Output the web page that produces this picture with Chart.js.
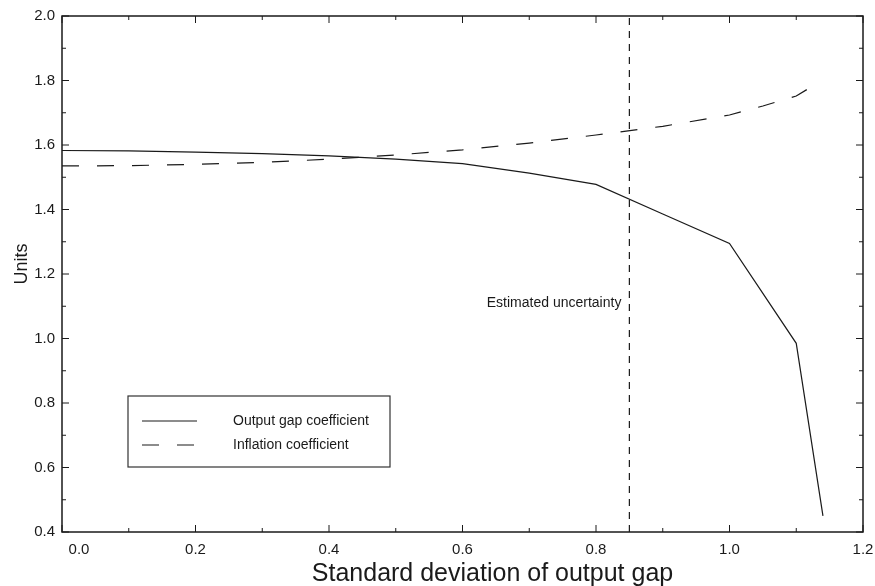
<!DOCTYPE html>
<html>
<head>
<meta charset="utf-8">
<script src="https://cdn.jsdelivr.net/npm/chart.js@4.4.1/dist/chart.umd.min.js"></script>
<style>
  html, body { margin: 0; padding: 0; background: #fff; }
  canvas { display: block; }
</style>
</head>
<body>
<canvas id="coefChart" width="875" height="586"></canvas>
<script>
// standard deviation of the output gap (x) and policy coefficients (y)
const outputGapSd = [0, 0.1, 0.2, 0.3, 0.4, 0.5, 0.6, 0.7, 0.8, 0.9, 1.0, 1.1, 1.14];
const outputGapCoef = [1.583, 1.582, 1.578, 1.573, 1.566, 1.556, 1.542, 1.513, 1.478, 1.386, 1.295, 0.985, 0.45];

const inflationSd = [0, 0.1, 0.2, 0.3, 0.4, 0.5, 0.6, 0.7, 0.8, 0.9, 1.0, 1.05, 1.1, 1.12];
const inflationCoef = [1.535, 1.536, 1.540, 1.546, 1.556, 1.569, 1.585, 1.606, 1.631, 1.658, 1.693, 1.721, 1.752, 1.777];

const uncertaintyX = 0.85;
const uncertaintyLabel = 'Estimated uncertainty';
const uncertaintyLabelY = 1.11;

const xTicks = [0, 0.2, 0.4, 0.6, 0.8, 1.0, 1.2];
const yTicks = [0.4, 0.6, 0.8, 1.0, 1.2, 1.4, 1.6, 1.8, 2.0];
const xTitle = 'Standard deviation of output gap';
const yTitle = 'Units';

const ink = '#1a1a1a';
const font = '"Liberation Sans", Arial, Helvetica, sans-serif';

const toPoints = (xs, ys) => xs.map((x, i) => ({ x: x, y: ys[i] }));

// frame, inward ticks, tick labels, axis titles, legend box and the annotation
const framePlugin = {
  id: 'frame',
  afterDraw(chart) {
    const { ctx, chartArea: a, scales } = chart;
    const xs = scales.x, ys = scales.y;
    ctx.save();
    ctx.strokeStyle = ink;
    ctx.lineWidth = 1.5;
    ctx.strokeRect(a.left, a.top, a.right - a.left, a.bottom - a.top);

    ctx.lineWidth = 1;
    ctx.beginPath();
    for (let i = 0; i <= 12; i++) {
      const px = xs.getPixelForValue(i / 10);
      const len = i % 2 === 0 ? 7 : 4;
      ctx.moveTo(px, a.bottom); ctx.lineTo(px, a.bottom - len);
      ctx.moveTo(px, a.top); ctx.lineTo(px, a.top + len);
    }
    for (let i = 0; i <= 16; i++) {
      const py = ys.getPixelForValue(0.4 + i / 10);
      const len = i % 2 === 0 ? 7 : 4;
      ctx.moveTo(a.left, py); ctx.lineTo(a.left + len, py);
      ctx.moveTo(a.right, py); ctx.lineTo(a.right - len, py);
    }
    ctx.stroke();

    ctx.fillStyle = ink;
    ctx.font = '15px ' + font;
    ctx.textAlign = 'right';
    ctx.textBaseline = 'middle';
    yTicks.forEach(v => ctx.fillText(v.toFixed(1), a.left - 7, ys.getPixelForValue(v)));
    ctx.textAlign = 'center';
    xTicks.forEach(v => {
      const shift = v === 0 ? 17 : 0;
      ctx.fillText(v.toFixed(1), xs.getPixelForValue(v) + shift, a.bottom + 18);
    });

    // axis titles
    ctx.font = '25px ' + font;
    ctx.textBaseline = 'alphabetic';
    ctx.fillText(xTitle, (a.left + a.right) / 2 + 30, 581);
    ctx.save();
    ctx.translate(27, (a.top + a.bottom) / 2 - 10);
    ctx.rotate(-Math.PI / 2);
    ctx.font = '18px ' + font;
    ctx.fillText(yTitle, 0, 0);
    ctx.restore();

    // annotation next to the vertical line
    ctx.font = '14px ' + font;
    ctx.textAlign = 'right';
    ctx.textBaseline = 'middle';
    ctx.fillText(uncertaintyLabel, xs.getPixelForValue(uncertaintyX) - 8, ys.getPixelForValue(uncertaintyLabelY));

    // legend
    const bx = 128, by = 396, bw = 262, bh = 71;
    ctx.lineWidth = 1.2;
    ctx.strokeStyle = '#333';
    ctx.strokeRect(bx, by, bw, bh);
    [chart.data.datasets[0], chart.data.datasets[1]].forEach((ds, i) => {
      const ry = by + 25 + i * 24;
      ctx.beginPath();
      ctx.strokeStyle = ink;
      ctx.lineWidth = 1.2;
      ctx.setLineDash(ds.borderDash || []);
      ctx.moveTo(bx + 14, ry);
      ctx.lineTo(bx + 69, ry);
      ctx.stroke();
      ctx.setLineDash([]);
      ctx.textAlign = 'left';
      ctx.fillText(ds.label, bx + 105, ry);
    });
    ctx.restore();
  }
};

new Chart(document.getElementById('coefChart').getContext('2d'), {
  type: 'line',
  data: {
    datasets: [{
      label: 'Output gap coefficient',
      data: toPoints(outputGapSd, outputGapCoef),
      borderColor: ink,
      borderWidth: 1.2,
      pointRadius: 0,
      tension: 0,
    }, {
      label: 'Inflation coefficient',
      data: toPoints(inflationSd, inflationCoef),
      borderColor: ink,
      borderWidth: 1.2,
      borderDash: [17, 18],
      pointRadius: 0,
      tension: 0,
    }, {
      label: uncertaintyLabel,
      data: toPoints([uncertaintyX, uncertaintyX], [0.4, 2.0]),
      borderColor: ink,
      borderWidth: 1.2,
      borderDash: [7, 6],
      pointRadius: 0,
    }],
  },
  options: {
    responsive: false,
    animation: false,
    layout: { padding: { top: 16, right: 12, left: 0, bottom: 0 } },
    plugins: {
      legend: { display: false },
      tooltip: { enabled: false },
    },
    scales: {
      x: {
        type: 'linear',
        min: 0,
        max: 1.2,
        grid: { display: false },
        border: { display: false },
        ticks: { display: false },
        afterFit(scale) { scale.height = 54; },
      },
      y: {
        type: 'linear',
        min: 0.4,
        max: 2.0,
        grid: { display: false },
        border: { display: false },
        ticks: { display: false },
        afterFit(scale) { scale.width = 62; },
      },
    },
  },
  plugins: [framePlugin],
});
</script>
</body>
</html>
